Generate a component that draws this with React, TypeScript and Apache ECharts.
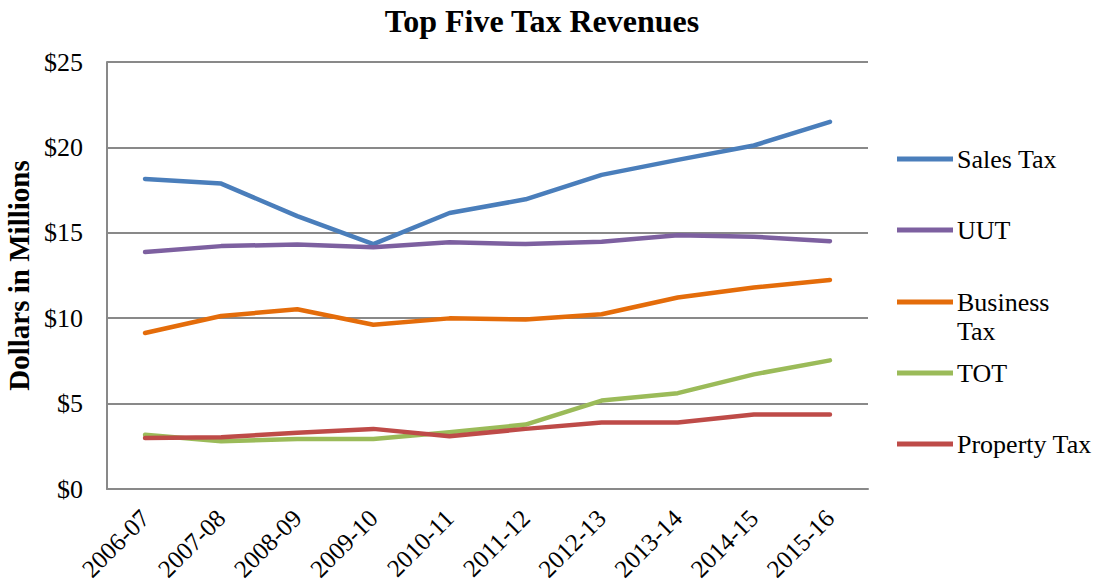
import React, { useEffect, useRef } from "react";
import * as echarts from "echarts";

const categories = ["2006-07", "2007-08", "2008-09", "2009-10", "2010-11", "2011-12", "2012-13", "2013-14", "2014-15", "2015-16"];
const salesTax = [18.15, 17.88, 15.98, 14.34, 16.16, 16.96, 18.39, 19.27, 20.11, 21.5];
const uut = [13.87, 14.22, 14.32, 14.16, 14.44, 14.34, 14.47, 14.85, 14.77, 14.51];
const businessTax = [9.13, 10.13, 10.52, 9.62, 9.99, 9.92, 10.23, 11.21, 11.8, 12.24];
const tot = [3.17, 2.79, 2.93, 2.93, 3.32, 3.77, 5.18, 5.61, 6.71, 7.53];
const propertyTax = [2.99, 3.03, 3.29, 3.52, 3.09, 3.52, 3.89, 3.89, 4.36, 4.36];

const seriesNames = ["Sales Tax", "UUT", "Business Tax", "TOT", "Property Tax"];
const seriesData = [salesTax, uut, businessTax, tot, propertyTax];
const colors = ["#4A7EBB", "#7D60A0", "#E46C0A", "#9BBB59", "#BE4B48"];
const legendCenters = [159, 230, 302, 373, 444];

const FONT = "'Liberation Serif', 'Times New Roman', serif";

export default function App() {
  const ref = useRef<HTMLDivElement>(null);
  useEffect(() => {
    if (!ref.current) return;
    const chart = echarts.init(ref.current, undefined, { renderer: "svg" });
    const legends = seriesNames.map((name, i) => {
      const isBiz = name === "Business Tax";
      const lh = 29;
      return {
        data: [name],
        left: 897,
        top: isBiz ? legendCenters[i] - lh / 2 : legendCenters[i] - 13,
        orient: "vertical",
        padding: 0,
        itemWidth: 56,
        itemHeight: isBiz ? 34 : 5,
        itemGap: 0,
        icon: isBiz
          ? "path://M0,0 L56,0 L56,5 L0,5 Z M0,33.98 L0.02,33.98 L0.02,34 L0,34 Z"
          : "path://M0,0 L56,0 L56,5 L0,5 Z",
        selectedMode: false,
        formatter: isBiz ? () => "Business\nTax" : undefined,
        textStyle: {
          fontFamily: FONT,
          fontSize: 26,
          color: "#000",
          lineHeight: isBiz ? lh : 26,
          padding: [0, 0, 0, -1],
        },
      };
    });
    chart.setOption({
      animation: false,
      backgroundColor: "#fff",
      title: {
        text: "Top Five Tax Revenues",
        left: 537,
        top: 0,
        textAlign: "center",
        textStyle: { fontFamily: FONT, fontSize: 32, fontWeight: "bold", color: "#000" },
      },
      legend: legends,
      grid: { left: 107, right: 233, top: 62, bottom: 99, containLabel: false, outerBoundsMode: "none" },
      xAxis: {
        type: "category",
        data: categories,
        boundaryGap: true,
        axisLine: { show: true, lineStyle: { color: "#898989", width: 2 } },
        axisTick: { show: false },
        axisLabel: {
          rotate: 45,
          margin: 25,
          fontFamily: FONT,
          fontSize: 25,
          color: "#000",
          interval: 0,
        },
      },
      yAxis: {
        type: "value",
        min: 0,
        max: 25,
        interval: 5,
        name: "Dollars in Millions",
        nameLocation: "middle",
        nameGap: 74,
        nameTextStyle: { fontFamily: FONT, fontSize: 29, fontWeight: "bold", color: "#000" },
        axisLine: { show: true, lineStyle: { color: "#898989", width: 2 } },
        axisTick: { show: false },
        splitLine: { show: true, lineStyle: { color: "#898989", width: 2 } },
        axisLabel: {
          formatter: (v: number) => "$" + v,
          margin: 24,
          fontFamily: FONT,
          fontSize: 26,
          color: "#000",
        },
      },
      series: seriesNames.map((name, i) => ({
        name,
        type: "line",
        data: seriesData[i],
        symbol: "none",
        showSymbol: false,
        color: colors[i],
        lineStyle: { color: colors[i], width: 4.5, cap: "round", join: "round" },
      })),
    });
    return () => chart.dispose();
  }, []);
  return <div ref={ref} style={{ width: 1101, height: 588, position: "absolute", left: 0, top: 0 }} />;
}
